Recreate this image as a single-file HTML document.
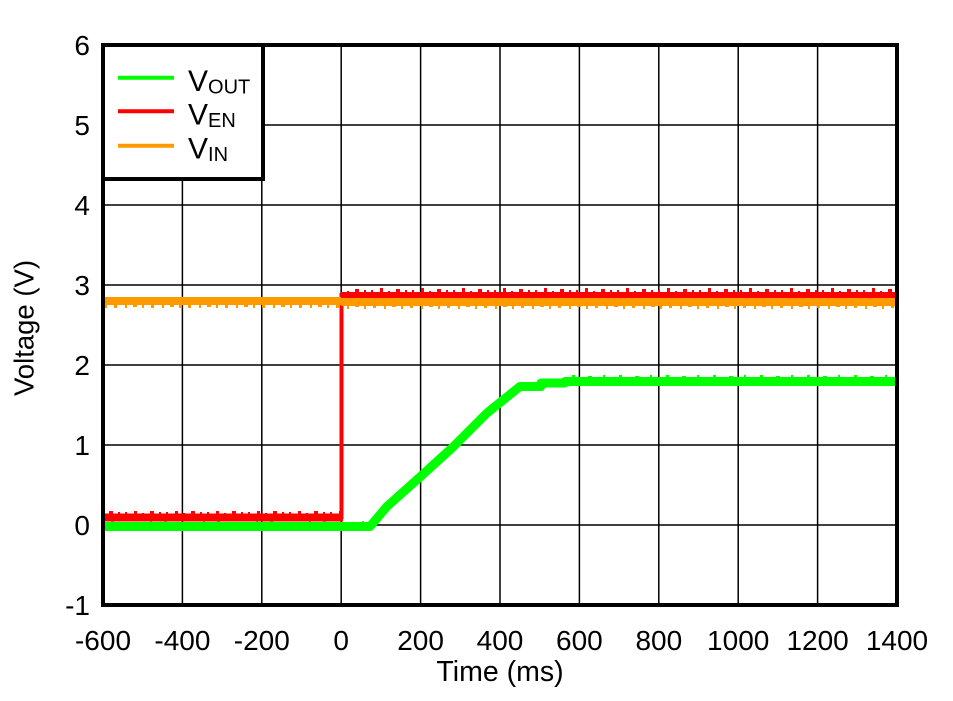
<!DOCTYPE html>
<html><head><meta charset="utf-8"><style>
html,body{margin:0;padding:0;background:#fff;}
svg{display:block;}
text{font-family:"Liberation Sans",Arial,sans-serif;fill:#000;}
</style></head><body>
<svg width="953" height="701" viewBox="0 0 953 701" xmlns="http://www.w3.org/2000/svg">
<defs>
<clipPath id="pa"><rect x="103" y="45" width="794" height="560"/></clipPath>
<pattern id="nr" x="0" y="0" width="41" height="6" patternUnits="userSpaceOnUse">
<rect x="2" y="2" width="2" height="4" fill="#ff0000"/><rect x="11" y="0" width="3" height="6" fill="#ff0000"/><rect x="19" y="3" width="2" height="3" fill="#ff0000"/><rect x="27" y="1" width="4" height="5" fill="#ff0000"/><rect x="36" y="2" width="2" height="4" fill="#ff0000"/>
</pattern>
<pattern id="no" x="0" y="0" width="37" height="5" patternUnits="userSpaceOnUse">
<rect x="3" y="0" width="3" height="3" fill="#ff9900"/><rect x="14" y="0" width="2" height="4" fill="#ff9900"/><rect x="22" y="0" width="4" height="2" fill="#ff9900"/><rect x="31" y="0" width="2" height="4" fill="#ff9900"/>
</pattern>
<pattern id="ng" x="0" y="520" width="53" height="4" patternUnits="userSpaceOnUse">
<rect x="5" y="1" width="3" height="3" fill="#00ff00"/><rect x="29" y="2" width="4" height="2" fill="#00ff00"/><rect x="44" y="1" width="2" height="3" fill="#00ff00"/>
</pattern>
<pattern id="ng2" x="0" y="374" width="47" height="4" patternUnits="userSpaceOnUse">
<rect x="8" y="1" width="3" height="3" fill="#00ff00"/><rect x="24" y="2" width="4" height="2" fill="#00ff00"/><rect x="39" y="1" width="2" height="3" fill="#00ff00"/>
</pattern>
</defs>
<rect width="953" height="701" fill="#fff"/>
<g stroke="#000" stroke-width="1.5">
<line x1="182.4" y1="45" x2="182.4" y2="605"/>
<line x1="261.8" y1="45" x2="261.8" y2="605"/>
<line x1="341.2" y1="45" x2="341.2" y2="605"/>
<line x1="420.6" y1="45" x2="420.6" y2="605"/>
<line x1="500" y1="45" x2="500" y2="605"/>
<line x1="579.4" y1="45" x2="579.4" y2="605"/>
<line x1="658.8" y1="45" x2="658.8" y2="605"/>
<line x1="738.2" y1="45" x2="738.2" y2="605"/>
<line x1="817.6" y1="45" x2="817.6" y2="605"/>
<line x1="103" y1="125" x2="897" y2="125"/>
<line x1="103" y1="205" x2="897" y2="205"/>
<line x1="103" y1="285" x2="897" y2="285"/>
<line x1="103" y1="365" x2="897" y2="365"/>
<line x1="103" y1="445" x2="897" y2="445"/>
<line x1="103" y1="525" x2="897" y2="525"/>
</g>
<g clip-path="url(#pa)">
<rect x="103" y="520" width="267" height="4" fill="url(#ng)"/>
<rect x="565" y="374" width="332" height="4" fill="url(#ng2)"/>
<polyline fill="none" stroke="#00ff00" stroke-width="9" stroke-linejoin="round" points="103,526.5 370,526.5 387,506.5 420,477 453,447 487,413 520,386.5 541,386.5 541,383 565,383 565,381.5 897,381.5"/>
<rect x="103" y="511" width="238" height="4" fill="url(#nr)"/>
<line x1="103" y1="517.5" x2="343" y2="517.5" stroke="#ff0000" stroke-width="8"/>
<line x1="341.5" y1="519" x2="341.5" y2="293" stroke="#ff0000" stroke-width="4"/>
<rect x="343" y="288" width="554" height="5" fill="url(#nr)"/>
<line x1="341" y1="295.5" x2="897" y2="295.5" stroke="#ff0000" stroke-width="7"/>
<line x1="103" y1="301" x2="341" y2="301" stroke="#ff9900" stroke-width="8"/>
<rect x="103" y="304" width="238" height="4" fill="url(#no)"/>
<line x1="341" y1="302" x2="897" y2="302" stroke="#ff9900" stroke-width="8"/>
<rect x="343" y="305" width="554" height="4" fill="url(#no)"/>
</g>
<rect x="103" y="45" width="794" height="560" fill="none" stroke="#000" stroke-width="4"/>
<rect x="103" y="45" width="160" height="134" fill="#fff" stroke="#000" stroke-width="4"/>
<line x1="118" y1="77.7" x2="174" y2="77.7" stroke="#00ff00" stroke-width="4"/>
<line x1="118" y1="111.3" x2="174" y2="111.3" stroke="#ff0000" stroke-width="4"/>
<line x1="118" y1="145.7" x2="174" y2="145.7" stroke="#ff9900" stroke-width="4"/>
<text x="188" y="91" font-size="30">V<tspan font-size="20" dy="2.5">OUT</tspan></text>
<text x="188" y="124.5" font-size="30">V<tspan font-size="20" dy="2.5">EN</tspan></text>
<text x="188" y="158.5" font-size="30">V<tspan font-size="20" dy="2.5">IN</tspan></text>
<g font-size="28" text-anchor="end">
<text x="90" y="55">6</text>
<text x="90" y="135">5</text>
<text x="90" y="215">4</text>
<text x="90" y="295">3</text>
<text x="90" y="375">2</text>
<text x="90" y="455">1</text>
<text x="90" y="535">0</text>
<text x="90" y="615">-1</text>
</g>
<g font-size="28" text-anchor="middle">
<text x="103" y="650">-600</text>
<text x="182.4" y="650">-400</text>
<text x="261.8" y="650">-200</text>
<text x="341.2" y="650">0</text>
<text x="420.6" y="650">200</text>
<text x="500" y="650">400</text>
<text x="579.4" y="650">600</text>
<text x="658.8" y="650">800</text>
<text x="738.2" y="650">1000</text>
<text x="817.6" y="650">1200</text>
<text x="897" y="650">1400</text>
</g>
<text x="500" y="681" font-size="28.5" text-anchor="middle">Time (ms)</text>
<text transform="translate(33.5,328) rotate(-90)" x="0" y="0" font-size="27.5" text-anchor="middle">Voltage (V)</text>
</svg>
</body></html>
